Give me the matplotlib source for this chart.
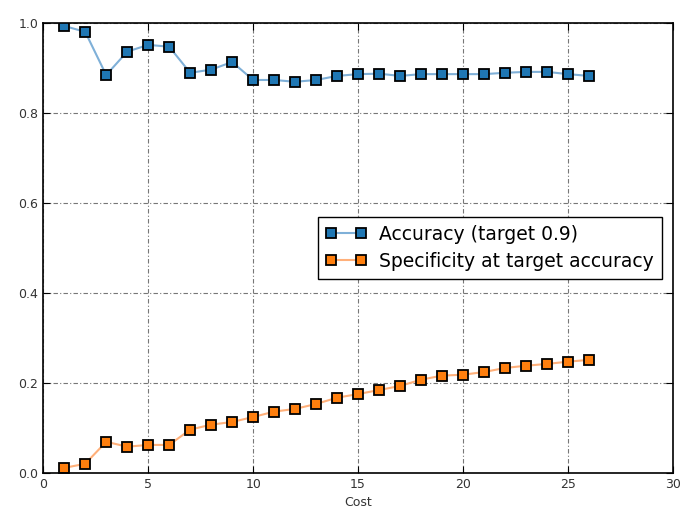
import matplotlib
matplotlib.use('Agg')
import matplotlib.pyplot as plt

cost = list(range(1, 27))
accuracy = [0.993, 0.980, 0.884, 0.936, 0.951, 0.947, 0.889, 0.896, 0.913, 0.873,
            0.873, 0.869, 0.873, 0.882, 0.886, 0.887, 0.882, 0.886, 0.886, 0.886,
            0.886, 0.889, 0.891, 0.891, 0.886, 0.882]
specificity = [0.011, 0.020, 0.069, 0.058, 0.062, 0.062, 0.096, 0.107, 0.113, 0.124,
               0.136, 0.142, 0.153, 0.167, 0.175, 0.184, 0.193, 0.207, 0.216, 0.218,
               0.224, 0.233, 0.238, 0.242, 0.247, 0.251]

fig = plt.figure(figsize=(6.86, 5.19), dpi=100)
ax = fig.add_axes([0.063, 0.089, 0.918, 0.867])

ax.plot(cost, accuracy, color='#7fb0d8', lw=1.5, marker='s', ms=6.5,
        mfc='#1f77b4', mec='black', mew=1.3, label='Accuracy (target 0.9)')
ax.plot(cost, specificity, color='#ffb07a', lw=1.5, marker='s', ms=6.5,
        mfc='#ff7f0e', mec='black', mew=1.3, label='Specificity at target accuracy')

ax.set_xlim(0, 30)
ax.set_ylim(0, 1.0)
ax.set_xticks([0, 5, 10, 15, 20, 25, 30])
ax.set_yticks([0.0, 0.2, 0.4, 0.6, 0.8, 1.0])
ax.grid(True, color='#777777', linestyle='-.', linewidth=0.8, dashes=(4, 2, 1, 2))
ax.tick_params(direction='in', top=True, right=True, length=5, labelsize=9,
               labelcolor='#333333')
for s in ax.spines.values():
    s.set_linewidth(1.2)
ax.set_xlabel('Cost', fontsize=9, color='#333333')
ax.legend(loc='center right', fontsize=13.5, numpoints=2, handlelength=2.2,
          fancybox=False, edgecolor='black', framealpha=1, borderaxespad=0.6,
          labelspacing=0.45, handletextpad=0.7)

fig.savefig('out.png', dpi=100)
